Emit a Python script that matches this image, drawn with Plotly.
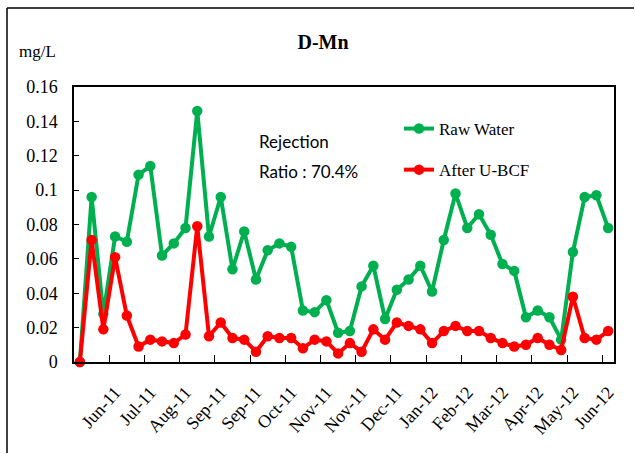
import plotly.graph_objects as go

# ---- data ----
tick_labels = ["Jun-11", "Jul-11", "Aug-11", "Sep-11", "Sep-11", "Oct-11", "Nov-11",
               "Nov-11", "Dec-11", "Jan-12", "Feb-12", "Mar-12", "Apr-12", "May-12", "Jun-12"]

raw_water = [0.0, 0.096, 0.028, 0.073, 0.070, 0.109, 0.114, 0.062, 0.069, 0.078,
             0.146, 0.073, 0.096, 0.054, 0.076, 0.048, 0.065, 0.069, 0.067, 0.030,
             0.029, 0.036, 0.017, 0.018, 0.044, 0.056, 0.025, 0.042, 0.048, 0.056,
             0.041, 0.071, 0.098, 0.078, 0.086, 0.074, 0.057, 0.053, 0.026, 0.030,
             0.026, 0.013, 0.064, 0.096, 0.097, 0.078]

after_ubcf = [0.0, 0.071, 0.019, 0.061, 0.027, 0.009, 0.013, 0.012, 0.011, 0.016,
              0.079, 0.015, 0.023, 0.014, 0.013, 0.006, 0.015, 0.014, 0.014, 0.008,
              0.013, 0.012, 0.005, 0.011, 0.006, 0.019, 0.013, 0.023, 0.021, 0.019,
              0.011, 0.018, 0.021, 0.018, 0.018, 0.014, 0.011, 0.009, 0.010, 0.014,
              0.010, 0.007, 0.038, 0.014, 0.013, 0.018]

sample_idx = list(range(len(raw_water)))
label_every = 3
label_pos = [label_every * (k + 1) for k in range(len(tick_labels))]
tick_mark_pos = [p - 0.5 for p in label_pos]

GREEN = "#00B050"
RED = "#FF0000"
SERIF = "Liberation Serif"

fig = go.Figure()
fig.add_trace(go.Scatter(
    x=sample_idx, y=raw_water, name="Raw Water", mode="lines+markers",
    line=dict(color=GREEN, width=4), marker=dict(color=GREEN, size=10.5),
    cliponaxis=False, legendgroup="a"))
fig.add_trace(go.Scatter(
    x=sample_idx, y=after_ubcf, name="After U-BCF", mode="lines+markers",
    line=dict(color=RED, width=4), marker=dict(color=RED, size=10.5),
    cliponaxis=False, legendgroup="b"))

W, H = 635, 454
ml, mr, mt, mb = 74, 21, 87, 92
pw, ph = W - ml - mr, H - mt - mb

def px_x(px):
    return (px - ml) / pw

def px_y(py):
    return (H - mb - py) / ph

fig.update_layout(
    width=W, height=H,
    margin=dict(l=ml, r=mr, t=mt, b=mb, autoexpand=False),
    paper_bgcolor="white", plot_bgcolor="white",
    font=dict(family=SERIF, size=17, color="black"),
    title=dict(text="<b>D-Mn</b>", x=px_x(323), xref="paper", xanchor="center",
               y=1 - 42 / H, yanchor="middle",
               font=dict(family=SERIF, size=20, color="black")),
    showlegend=True,
    legend=dict(x=px_x(399), y=px_y(111), xanchor="left", yanchor="top",
                bgcolor="rgba(0,0,0,0)", font=dict(family=SERIF, size=17),
                tracegroupgap=16, itemwidth=30),
    xaxis=dict(range=[-0.5, len(raw_water) - 0.5], tickmode="array",
               tickvals=label_pos, ticktext=tick_labels, tickangle=-48,
               ticks="", showgrid=False, zeroline=False,
               showline=True, linecolor="black", linewidth=1.5, mirror=True,
               ticklabelstandoff=11,
               tickfont=dict(family=SERIF, size=18),
               minor=dict(tickmode="array", tickvals=tick_mark_pos, ticks="inside",
                          ticklen=7, tickwidth=1.2, tickcolor="black", showgrid=False)),
    yaxis=dict(range=[0, 0.16], dtick=0.02, tick0=0, ticks="inside", ticklen=5,
               tickwidth=1.2, tickcolor="black", showgrid=False, zeroline=False,
               showline=True, linecolor="black", linewidth=1.5, mirror=True,
               ticklabelstandoff=11,
               tickfont=dict(family=SERIF, size=18)),
    annotations=[
        dict(text="mg/L", x=px_x(37), y=px_y(51), xref="paper", yref="paper",
             showarrow=False, xanchor="center", yanchor="middle",
             font=dict(family=SERIF, size=17)),
        dict(text="Rejection", x=px_x(257), y=px_y(141), xref="paper", yref="paper",
             showarrow=False, xanchor="left", yanchor="middle",
             font=dict(family="Lato", size=17)),
        dict(text="Ratio : 70.4%", x=px_x(257), y=px_y(171), xref="paper", yref="paper",
             showarrow=False, xanchor="left", yanchor="middle",
             font=dict(family="Lato", size=17)),
    ],
    shapes=[
        dict(type="line", xref="paper", yref="paper",
             x0=px_x(7), x1=px_x(W - 1), y0=px_y(8), y1=px_y(8),
             line=dict(color="black", width=1.5)),
        dict(type="line", xref="paper", yref="paper",
             x0=px_x(7), x1=px_x(7), y0=px_y(8), y1=px_y(H - 1),
             line=dict(color="black", width=1.5)),
    ],
)

fig.write_html("out.html", config={"displayModeBar": False},
               post_script="document.body.style.margin='0';document.body.style.overflow='hidden';")
